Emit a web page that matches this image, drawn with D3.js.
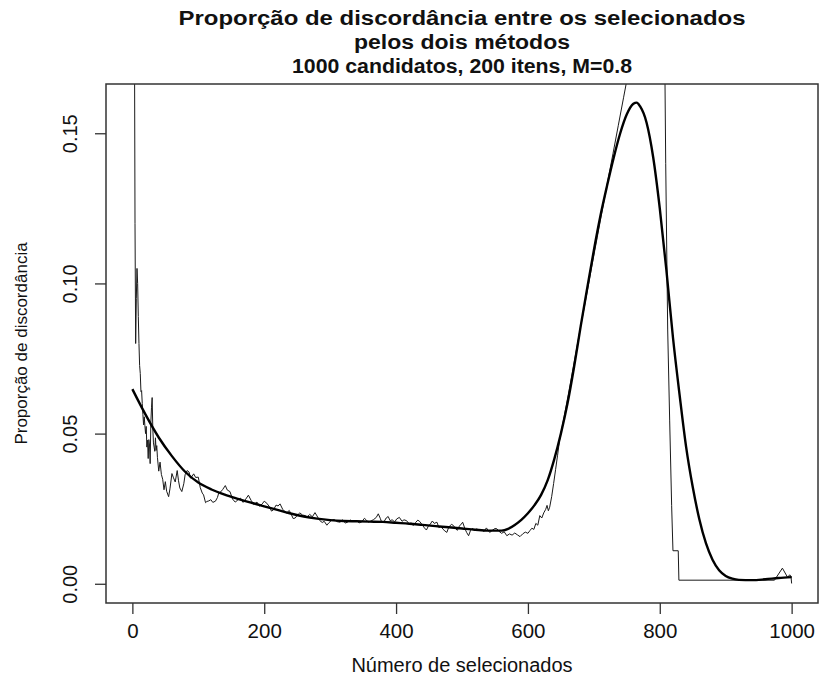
<!DOCTYPE html>
<html>
<head>
<meta charset="utf-8">
<script src="https://cdn.jsdelivr.net/npm/d3@7"></script>
<style>
  html, body { margin: 0; padding: 0; background: #fff; }
  svg { display: block; font-family: "Liberation Sans", Arial, Helvetica, sans-serif; }
</style>
</head>
<body>
<svg id="chart" width="819" height="684"></svg>
<script>
// Observed proportion of disagreement, by number selected
const rawX = [1, 2, 3, 4, 5, 6, 7, 8, 9, 10, 11, 12, 13, 14, 15, 16, 17, 18, 19, 20,
  21, 22, 23, 24, 25, 26, 27, 28, 29, 30, 31, 32, 33, 34, 35, 36, 37, 38, 40, 42,
  44, 46, 48, 50, 52, 55, 57, 60, 62, 65, 68, 70, 72, 75, 78, 80, 83, 86, 88, 90,
  93, 96, 100, 103, 106, 108, 111, 113, 116, 119, 122, 126, 129, 131, 134, 137, 141, 144, 148, 152,
  156, 160, 164, 168, 172, 176, 180, 184, 189, 193, 197, 200, 204, 208, 211, 214, 218, 221, 224, 228,
  231, 234, 238, 241, 244, 247, 250, 254, 258, 262, 265, 269, 273, 277, 280, 284, 288, 291, 295, 298,
  302, 306, 310, 315, 319, 323, 327, 331, 335, 340, 344, 348, 352, 355, 358, 362, 366, 370, 373, 376,
  378, 381, 385, 388, 391, 394, 398, 401, 405, 409, 412, 416, 420, 423, 426, 430, 433, 436, 439, 443,
  446, 449, 452, 455, 458, 462, 465, 468, 471, 474, 477, 480, 484, 487, 490, 493, 496, 499, 501, 504,
  507, 510, 513, 516, 519, 522, 526, 530, 533, 537, 542, 546, 550, 553, 556, 560, 564, 568, 572, 576,
  580, 584, 588, 592, 596, 600, 603, 606, 609, 612, 615, 618, 621, 624, 627, 629, 631, 633, 636, 639,
  642, 645, 648, 655, 663, 671, 679, 688, 697, 705, 713, 721, 729, 737, 745, 753, 765, 780, 795, 806,
  807, 809, 812, 815, 818, 820, 828, 829, 974, 986, 994, 997, 999, 1000];
const rawY = [1.0, 0.5, 0.2, 0.12, 0.08, 0.095, 0.105, 0.1, 0.089, 0.08, 0.0727, 0.07, 0.064, 0.0643, 0.06, 0.0563, 0.0529, 0.0556, 0.0526, 0.05,
  0.0524, 0.0455, 0.0478, 0.0417, 0.048, 0.0462, 0.04, 0.0536, 0.0586, 0.062, 0.0516, 0.0469, 0.0455, 0.0441, 0.0486, 0.0444, 0.046, 0.0421, 0.0375, 0.0405,
  0.0364, 0.0348, 0.0313, 0.034, 0.0308, 0.029, 0.0316, 0.0367, 0.0355, 0.0339, 0.0377, 0.0343, 0.0319, 0.0307, 0.0333, 0.0363, 0.0377, 0.0372, 0.0352, 0.0356,
  0.0366, 0.0354, 0.0355, 0.032, 0.0302, 0.0296, 0.027, 0.0274, 0.0276, 0.028, 0.0271, 0.0275, 0.0287, 0.0302, 0.0306, 0.0314, 0.0327, 0.0312, 0.0307, 0.0282,
  0.0272, 0.0279, 0.0285, 0.0271, 0.0282, 0.0295, 0.0278, 0.0264, 0.0272, 0.0258, 0.0266, 0.0275, 0.0268, 0.0256, 0.0242, 0.0246, 0.0262, 0.0259, 0.0266, 0.0248,
  0.0241, 0.0236, 0.0244, 0.0231, 0.0217, 0.0219, 0.0228, 0.0236, 0.0229, 0.0227, 0.0222, 0.0231, 0.0223, 0.0237, 0.0226, 0.0211, 0.0204, 0.0208, 0.0195, 0.0203,
  0.0211, 0.0214, 0.0207, 0.0205, 0.0213, 0.0202, 0.0206, 0.0212, 0.0208, 0.021, 0.0203, 0.0206, 0.0218, 0.0212, 0.0205, 0.0209, 0.0214, 0.0221, 0.0233, 0.0218,
  0.0206, 0.0204, 0.0219, 0.0224, 0.021, 0.0213, 0.0206, 0.0216, 0.0221, 0.0208, 0.0213, 0.021, 0.0199, 0.0203, 0.0194, 0.0205, 0.0212, 0.0207, 0.0198, 0.0186,
  0.0179, 0.0192, 0.0199, 0.0209, 0.0201, 0.0205, 0.0187, 0.0192, 0.0182, 0.0176, 0.0171, 0.0189, 0.0198, 0.0194, 0.0184, 0.0178, 0.0192, 0.0199, 0.0205, 0.0186,
  0.0171, 0.016, 0.0178, 0.0185, 0.0176, 0.0183, 0.0178, 0.0181, 0.0174, 0.0186, 0.0171, 0.0178, 0.0184, 0.0183, 0.0175, 0.0168, 0.0173, 0.016, 0.0166, 0.0162,
  0.0169, 0.0163, 0.0157, 0.0166, 0.0172, 0.0168, 0.0177, 0.0185, 0.0181, 0.0201, 0.0195, 0.0227, 0.0219, 0.0236, 0.0248, 0.0261, 0.0243, 0.0255, 0.029, 0.0334,
  0.0381, 0.0428, 0.0478, 0.0557, 0.0651, 0.0748, 0.0845, 0.095, 0.1058, 0.1152, 0.1247, 0.134, 0.1432, 0.1525, 0.1618, 0.1711, 0.1852, 0.2027, 0.2203, 0.233,
  0.19, 0.14, 0.0845, 0.0545, 0.026, 0.011, 0.011, 0.0012, 0.0012, 0.0052, 0.0021, 0.003, 0.0025, 0.0001];

// Smoothed fit
const smoothX = [0, 20, 40, 60, 80, 100, 120, 140, 160, 180, 200, 220, 240, 260, 280, 300, 320, 340, 360, 380,
  400, 420, 440, 460, 480, 500, 520, 540, 560, 570, 580, 590, 600, 610, 620, 630, 640, 650, 660, 670,
  680, 690, 700, 710, 720, 730, 740, 750, 760, 765, 770, 780, 790, 800, 810, 820, 830, 840, 850, 860,
  870, 880, 890, 900, 910, 920, 940, 960, 980, 1000];
const smoothY = [0.0648, 0.0563, 0.0487, 0.0425, 0.0373, 0.0337, 0.0314, 0.0297, 0.0283, 0.027, 0.0258, 0.0246, 0.0234, 0.0224, 0.0217, 0.0212, 0.0209, 0.0208, 0.0207, 0.0206,
  0.0203, 0.02, 0.0196, 0.0192, 0.0188, 0.0184, 0.018, 0.0177, 0.0177, 0.0183, 0.0196, 0.0213, 0.0235, 0.0262, 0.0296, 0.0345, 0.0415, 0.05, 0.06, 0.0722,
  0.0857, 0.0985, 0.111, 0.1225, 0.1325, 0.1418, 0.15, 0.1563, 0.1598, 0.1602, 0.159, 0.1535, 0.142, 0.125, 0.1045, 0.082, 0.063, 0.0455, 0.0322, 0.0215,
  0.0135, 0.008, 0.0045, 0.0026, 0.0017, 0.0013, 0.0012, 0.0015, 0.0019, 0.0022];

const xTicks = [0, 200, 400, 600, 800, 1000];
const yTicks = [0.00, 0.05, 0.10, 0.15];
const titleLines = [
  "Proporção de discordância entre os selecionados",
  "pelos dois métodos",
  "1000 candidatos, 200 itens, M=0.8"
];
// rendered widths of the three title lines
const titleWidths = [567, 216, 340];

const W = 819, H = 684;
const plot = { left: 106, right: 818, top: 84, bottom: 603 };
const font = "'Liberation Sans', Arial, sans-serif";

const svg = d3.select("#chart");

const x = d3.scaleLinear().domain([-40, 1040]).range([plot.left, plot.right]);
const y = d3.scaleLinear().domain([-0.0064, 0.1664]).range([plot.bottom, plot.top]);

svg.append("defs").append("clipPath").attr("id", "plotClip")
  .append("rect")
  .attr("x", plot.left).attr("y", plot.top)
  .attr("width", plot.right - plot.left).attr("height", plot.bottom - plot.top);

const raw = rawX.map((v, i) => [v, rawY[i]]);
const smooth = smoothX.map((v, i) => [v, smoothY[i]]);

const g = svg.append("g").attr("clip-path", "url(#plotClip)");

g.append("path")
  .datum(raw)
  .attr("fill", "none")
  .attr("stroke", "#1a1a1a")
  .attr("stroke-width", 1)
  .attr("stroke-linejoin", "round")
  .attr("d", d3.line().x(d => x(d[0])).y(d => y(d[1])));

g.append("path")
  .datum(smooth)
  .attr("fill", "none")
  .attr("stroke", "#000")
  .attr("stroke-width", 2.4)
  .attr("d", d3.line().curve(d3.curveMonotoneX).x(d => x(d[0])).y(d => y(d[1])));

// plot frame
svg.append("rect")
  .attr("x", plot.left).attr("y", plot.top)
  .attr("width", plot.right - plot.left).attr("height", plot.bottom - plot.top)
  .attr("fill", "none").attr("stroke", "#333").attr("stroke-width", 1.5);

// x axis
const xAxis = svg.append("g")
  .attr("transform", `translate(0,${plot.bottom})`)
  .call(d3.axisBottom(x).tickValues(xTicks).tickFormat(d3.format("d")).tickSize(11).tickPadding(8));
xAxis.select(".domain").remove();
xAxis.selectAll(".tick line").attr("stroke", "#333").attr("stroke-width", 1.3);
xAxis.selectAll(".tick text").attr("font-size", 20.5).attr("fill", "#111")
  .attr("font-family", font).attr("y", 0).attr("dy", null)
  .attr("transform", "translate(0,35)");

// y axis
const yAxis = svg.append("g")
  .attr("transform", `translate(${plot.left},0)`)
  .call(d3.axisLeft(y).tickValues(yTicks).tickFormat(d3.format(".2f")).tickSize(11));
yAxis.select(".domain").remove();
yAxis.selectAll(".tick line").attr("stroke", "#333").attr("stroke-width", 1.3);
yAxis.selectAll(".tick text")
  .attr("font-size", 20).attr("fill", "#111")
  .attr("font-family", font)
  .attr("x", null).attr("dy", null)
  .attr("text-anchor", "middle")
  .attr("transform", "translate(-29,0) rotate(-90)");

// titles
const title = svg.append("g");
titleLines.forEach((t, i) => {
  title.append("text")
    .attr("x", (plot.left + plot.right) / 2)
    .attr("y", 25 + i * 24)
    .attr("text-anchor", "middle")
    .attr("font-weight", "bold")
    .attr("font-size", 20)
    .attr("textLength", titleWidths[i])
    .attr("lengthAdjust", "spacingAndGlyphs")
    .attr("fill", "#111")
    .text(t);
});

svg.append("text")
  .attr("x", (plot.left + plot.right) / 2)
  .attr("y", 672)
  .attr("text-anchor", "middle")
  .attr("font-size", 20)
  .attr("fill", "#111")
  .text("Número de selecionados");

svg.append("text")
  .attr("transform", `translate(27,${(plot.top + plot.bottom) / 2}) rotate(-90)`)
  .attr("text-anchor", "middle")
  .attr("font-size", 17)
  .attr("fill", "#111")
  .text("Proporção de discordância");
</script>
</body>
</html>
